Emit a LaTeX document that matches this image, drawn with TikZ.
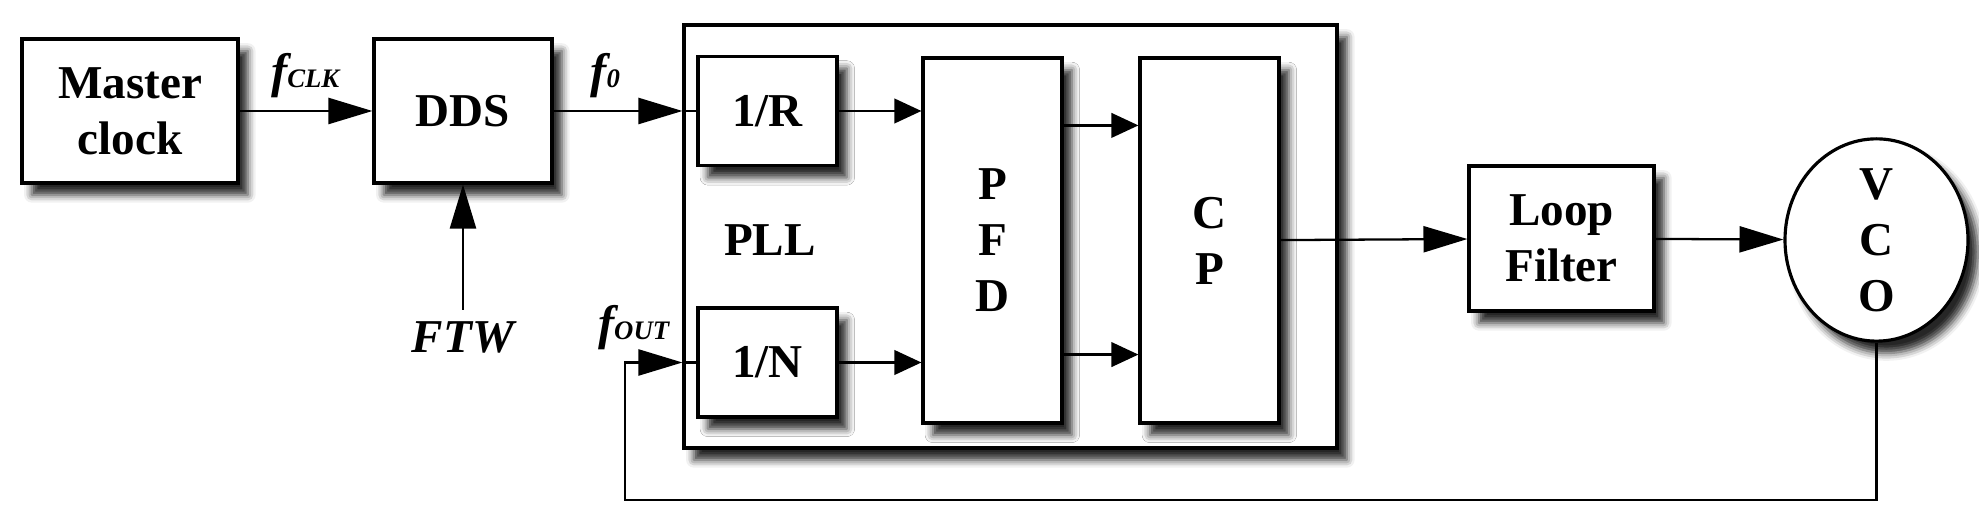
\documentclass[tikz,border=0pt]{standalone}
\usepackage{fontspec}
\setmainfont{Liberation Serif}
\usepackage{tikz}
\usetikzlibrary{positioning, calc, arrows.meta, shapes.geometric, shadows.blur}
\newcommand{\sig}[2]{\textbf{\textit{#1\fontsize{7.6}{8}\selectfont #2}}}

\begin{document}
\begin{tikzpicture}[>={Triangle[length=12.5pt,width=7.4pt]},
	blk/.style={draw, line width=0.9pt, fill=white, inner sep=0pt, align=center,
		font=\fontsize{13.4}{15.9}\selectfont\bfseries,
		blur shadow={shadow xshift=2.8pt, shadow yshift=-3.4pt, shadow blur radius=2.2pt, shadow opacity=85}},
	lbl/.style={font=\fontsize{13.8}{15.6}\selectfont},
	wire/.style={line width=0.65pt},
	inwire/.style={line width=0.65pt, -{Triangle[length=7.7pt,width=7pt]}}]
	\useasboundingbox (0,0) rectangle (19.79,5.20);
	\node[blk, minimum width=6.53cm, minimum height=4.23cm] (pll) at (10.105,2.835) {}; %PLL枠
	\node[font=\fontsize{13.4}{15.6}\selectfont\bfseries] (plltxt) at (7.70,2.80) {PLL};
	\node[blk, minimum width=2.16cm, minimum height=1.44cm] (mc) at (1.30,4.09) {Master\\clock};
	\node[blk, minimum width=1.78cm, minimum height=1.44cm] (dds) at (4.63,4.09) {DDS};
	\node[blk, minimum width=1.39cm, minimum height=1.09cm] (rdiv) at (7.675,4.09) {1/R};
	\node[blk, minimum width=1.39cm, minimum height=1.09cm] (ndiv) at (7.675,1.575) {1/N};
	\node[blk, minimum width=1.39cm, minimum height=3.65cm] (pfd) at (9.925,2.795) {P\\F\\D};
	\node[blk, minimum width=1.39cm, minimum height=3.65cm] (cp) at (12.095,2.795) {C\\P};
	\node[blk, minimum width=1.85cm, minimum height=1.45cm] (lf) at (15.615,2.815) {Loop\\Filter};
	\node[blk, ellipse, minimum width=1.83cm, minimum height=1.79cm] (vco) at (18.765,2.80) {V\\C\\O};
	\node[font=\fontsize{13.4}{15.6}\selectfont\bfseries\itshape, below=1.25cm of dds] (ftw) {FTW};
	\coordinate (rin) at (pll.west |- rdiv); %PLL入力
	\coordinate (nin) at (pll.west |- ndiv);
	\coordinate (fb) at (6.25,0.20); %帰還
	\draw[wire,->] (mc) -- (dds) node[lbl,midway,above]{\sig{f}{CLK}};
	\draw[wire,->] (ftw) -- (dds);
	\draw[wire,->] (dds) -- (rin) node[lbl,pos=0.4,above]{\sig{f}{0}};
	\draw[wire] (rin) -- (rdiv);
	\draw[inwire] (rdiv) -- (rdiv -| pfd.west);
	\draw[inwire] (ndiv) -- (ndiv -| pfd.west);
	\draw[inwire] ([yshift=-0.69cm]pfd.north east) -- ([yshift=-0.69cm]cp.north west);
	\draw[inwire] ([yshift=0.70cm]pfd.south east) -- ([yshift=0.70cm]cp.south west);
	\draw[wire,->] (cp) -- (lf);
	\draw[wire,->] (lf) -- (vco);
	\draw[wire,->] (vco.south) |- (fb) |- (nin);
	\draw[wire] (nin) -- (ndiv);
	\node[lbl,above left] (fout) at (nin) {\sig{f}{OUT}};
\end{tikzpicture}
\end{document}
